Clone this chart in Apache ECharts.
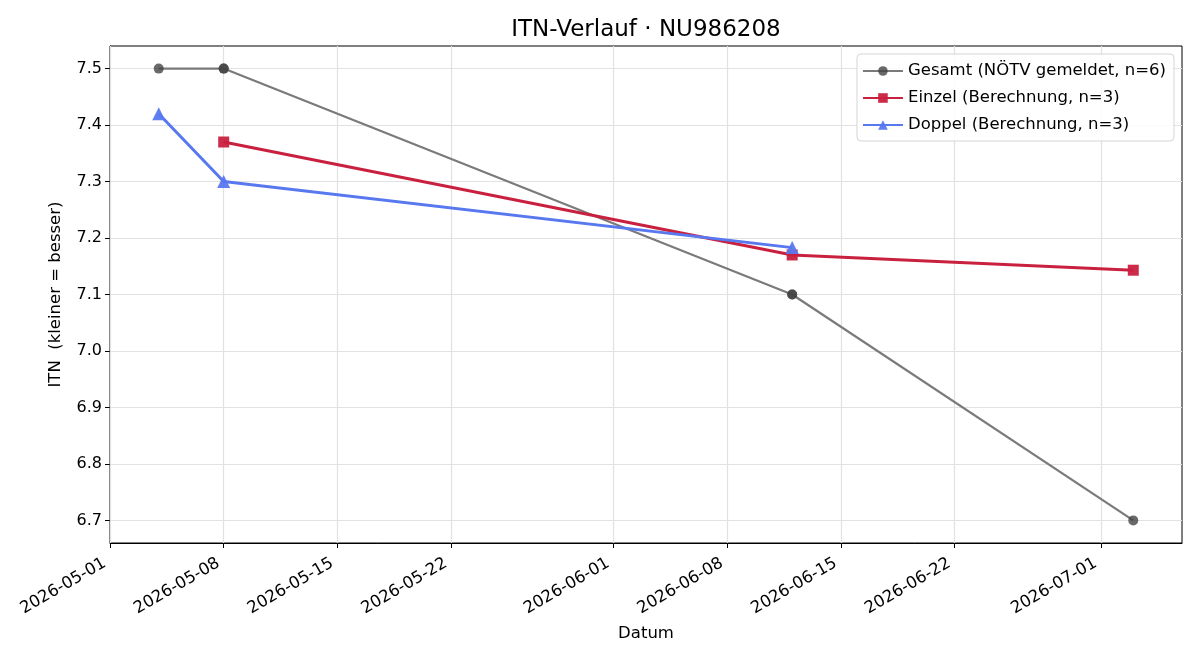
<!DOCTYPE html>
<html>
<head>
<meta charset="utf-8">
<title>ITN-Verlauf</title>
<script src="https://cdn.jsdelivr.net/npm/echarts@6/dist/echarts.min.js"></script>
<style>
  html, body { margin: 0; padding: 0; background: #fff; }
  #chart { width: 1200px; height: 660px; }
</style>
</head>
<body>
<div id="chart"></div>
<script>
// tick positions (as in the reference)
var xTicks = ['2026-05-01', '2026-05-08', '2026-05-15', '2026-05-22', '2026-06-01',
              '2026-06-08', '2026-06-15', '2026-06-22', '2026-07-01'];
var yTicks = [6.7, 6.8, 6.9, 7.0, 7.1, 7.2, 7.3, 7.4, 7.5];

// Gesamt (NÖTV gemeldet) - 6 Meldungen, zwei Termine doppelt
var gesamtDates = ['2026-05-04', '2026-05-08', '2026-05-08', '2026-06-12', '2026-06-12', '2026-07-03'];
var gesamtValues = [7.5, 7.5, 7.5, 7.1, 7.1, 6.7];

// Einzel (Berechnung)
var einzelDates = ['2026-05-08', '2026-06-12', '2026-07-03'];
var einzelValues = [7.37, 7.17, 7.143];

// Doppel (Berechnung)
var doppelDates = ['2026-05-04', '2026-05-08', '2026-06-12'];
var doppelValues = [7.42, 7.30, 7.183];

var font = 'DejaVu Sans';

function ts(s) {
  var p = s.split('-');
  return new Date(+p[0], +p[1] - 1, +p[2]).getTime();
}
function pad(n) { return n < 10 ? '0' + n : '' + n; }
function fmtDate(v) {
  var d = new Date(v);
  return d.getFullYear() + '-' + pad(d.getMonth() + 1) + '-' + pad(d.getDate());
}
function pairs(dates, values) {
  return dates.map(function (d, i) { return [ts(d), values[i]]; });
}

var xTickValues = xTicks.map(ts);

// grid lines, drawn below the data
var gridLines = [];
xTickValues.forEach(function (v) { gridLines.push({ xAxis: v }); });
yTicks.forEach(function (v) { gridLines.push({ yAxis: v }); });

var myChart = echarts.init(document.getElementById('chart'));
var option = {
  animation: false,
  backgroundColor: '#fff',
  textStyle: { fontFamily: font },
  title: {
    text: 'ITN-Verlauf · NU986208',
    left: 646,
    textAlign: 'center',
    top: 19,
    padding: 0,
    textStyle: { fontFamily: font, fontSize: 23, fontWeight: 'normal', color: '#000' }
  },
  legend: {
    orient: 'vertical',
    right: 26,
    top: 54,
    z: 20,
    padding: [7, 8, 6, 5],
    itemGap: 7,
    itemWidth: 40,
    itemHeight: 12,
    borderColor: '#d5d5d5',
    borderWidth: 1,
    borderRadius: 4,
    backgroundColor: 'rgba(255,255,255,0.85)',
    textStyle: { fontFamily: font, fontSize: 16.5, lineHeight: 20, color: '#000' },
    data: ['Gesamt (NÖTV gemeldet, n=6)', 'Einzel (Berechnung, n=3)', 'Doppel (Berechnung, n=3)']
  },
  grid: {
    left: 110,
    right: 18,
    top: 46,
    bottom: 117,
    show: true,
    borderColor: '#000',
    borderWidth: 1
  },
  xAxis: {
    // dates as timestamps on a value axis, so the ticks can be placed like the reference
    type: 'value',
    min: ts('2026-05-01'),
    max: ts('2026-07-06'),
    name: 'Datum',
    nameLocation: 'middle',
    nameGap: 82,
    nameTextStyle: { fontFamily: font, fontSize: 16.5, color: '#000' },
    axisLine: { show: true, onZero: false, lineStyle: { color: '#000', width: 1 } },
    axisTick: { show: true, length: 5, customValues: xTickValues, lineStyle: { color: '#000' } },
    axisLabel: {
      customValues: xTickValues,
      formatter: function (v) { return fmtDate(v); },
      rotate: 30,
      margin: 16,
      padding: [0, 6, 0, 0],
      fontFamily: font,
      fontSize: 16.5,
      color: '#000',
      showMinLabel: true,
      showMaxLabel: true,
      hideOverlap: false
    },
    splitLine: { show: false }
  },
  yAxis: {
    type: 'value',
    min: 6.66,
    max: 7.54,
    name: 'ITN  (kleiner = besser)',
    nameLocation: 'middle',
    nameGap: 46,
    nameTextStyle: { fontFamily: font, fontSize: 16.5, color: '#000' },
    axisLine: { show: true, onZero: false, lineStyle: { color: '#000', width: 1 } },
    axisTick: { show: true, length: 5, customValues: yTicks, lineStyle: { color: '#000' } },
    axisLabel: {
      customValues: yTicks,
      formatter: function (v) { return v.toFixed(1); },
      margin: 8,
      fontFamily: font,
      fontSize: 16,
      color: '#000'
    },
    splitLine: { show: false }
  },
  series: [
    {
      name: 'grid',
      type: 'line',
      data: [],
      silent: true,
      z: 1,
      markLine: {
        silent: true,
        z: 1,
        symbol: ['none', 'none'],
        label: { show: false },
        animation: false,
        lineStyle: { color: '#e2e2e2', width: 1.2, type: 'solid' },
        emphasis: { disabled: true },
        data: gridLines
      }
    },
    {
      name: 'Gesamt (NÖTV gemeldet, n=6)',
      type: 'line',
      z: 3,
      data: pairs(gesamtDates, gesamtValues),
      symbol: 'circle',
      symbolSize: 10,
      color: '#7a7a7a',
      lineStyle: { color: '#7a7a7a', width: 2.2 },
      itemStyle: { color: '#444', opacity: 0.8 }
    },
    {
      name: 'Einzel (Berechnung, n=3)',
      type: 'line',
      z: 4,
      data: pairs(einzelDates, einzelValues),
      symbol: 'rect',
      symbolSize: 11,
      color: '#c9203f',
      lineStyle: { color: '#c9203f', width: 3 },
      itemStyle: { color: '#c9203f', opacity: 0.95 }
    },
    {
      name: 'Doppel (Berechnung, n=3)',
      type: 'line',
      z: 5,
      data: pairs(doppelDates, doppelValues),
      symbol: 'triangle',
      symbolSize: 13,
      color: '#5878ef',
      lineStyle: { color: '#5878ef', width: 3 },
      itemStyle: { color: '#5878ef', opacity: 0.95 }
    }
  ]
};
myChart.setOption(option);
</script>
</body>
</html>
